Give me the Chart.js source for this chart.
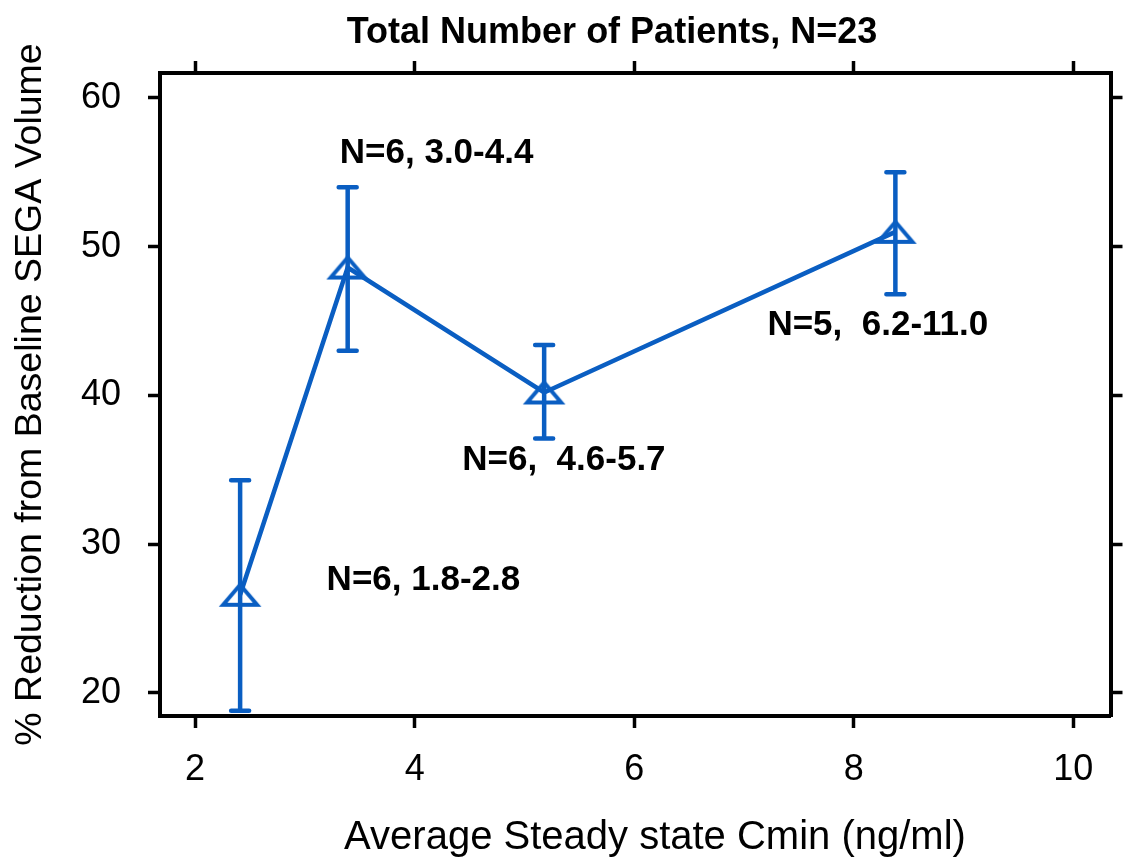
<!DOCTYPE html>
<html>
<head>
<meta charset="utf-8">
<title>SEGA volume reduction vs Cmin</title>
<script src="https://cdn.jsdelivr.net/npm/chart.js@4/dist/chart.umd.min.js"></script>
<style>
    body { margin: 0; background: #ffffff; }
    #wrap { width: 1127px; height: 859px; }
</style>
</head>
<body>
<div id="wrap"><canvas id="cminChart" width="1127" height="859"></canvas></div>
<script>
// Mean Cmin per exposure group and mean % reduction of SEGA volume
const cminMean = [2.41, 3.39, 5.18, 8.38];
const reduction = [26.6, 48.6, 40.2, 51.0];
const errUpper = [34.3, 54.0, 43.4, 55.0];
const errLower = [18.8, 43.0, 37.1, 46.8];
const groupLabels = ['N=6, 1.8-2.8', 'N=6, 3.0-4.4', 'N=6,  4.6-5.7', 'N=5,  6.2-11.0'];

const xTickValues = [2, 4, 6, 8, 10];
const yTickValues = [20, 30, 40, 50, 60];

const BLUE = '#0a5ec2';
const FONT = "'Liberation Sans', Arial, Helvetica, sans-serif";

// Where each group label sits (data units, text centre)
const labelAnchors = [
    { x: 4.08, y: 27.6 },
    { x: 4.20, y: 56.3 },
    { x: 5.36, y: 35.66 },
    { x: 8.22, y: 44.74 }
];

// Open triangle marker, a bit flatter than the built-in one
function makeTriangle() {
    const c = document.createElement('canvas');
    c.width = 44;
    c.height = 30;
    const g = c.getContext('2d');
    g.strokeStyle = BLUE;
    g.lineWidth = 4;
    g.lineJoin = 'miter';
    g.beginPath();
    g.moveTo(22, 5);
    g.lineTo(39, 25);
    g.lineTo(5, 25);
    g.closePath();
    g.stroke();
    return c;
}

const errorBars = {
    id: 'errorBars',
    afterDatasetsDraw(chart) {
        const ctx = chart.ctx;
        const xs = chart.scales.x;
        const ys = chart.scales.y;
        ctx.save();
        ctx.strokeStyle = BLUE;
        ctx.lineWidth = 4.5;
        ctx.lineCap = 'round';
        cminMean.forEach((v, i) => {
            const px = xs.getPixelForValue(v);
            const top = ys.getPixelForValue(errUpper[i]);
            const bot = ys.getPixelForValue(errLower[i]);
            ctx.beginPath();
            ctx.moveTo(px, top);
            ctx.lineTo(px, bot);
            ctx.moveTo(px - 9, top);
            ctx.lineTo(px + 9, top);
            ctx.moveTo(px - 9, bot);
            ctx.lineTo(px + 9, bot);
            ctx.stroke();
        });
        ctx.restore();
    }
};

// Heading, x-axis caption and the group labels
const chartText = {
    id: 'chartText',
    afterDraw(chart) {
        const ctx = chart.ctx;
        const xs = chart.scales.x;
        const ys = chart.scales.y;
        ctx.save();
        ctx.fillStyle = '#000000';
        ctx.textAlign = 'center';
        ctx.textBaseline = 'middle';

        ctx.font = 'bold 36px ' + FONT;
        ctx.fillText('Total Number of Patients, N=23', 612, 33);

        ctx.font = '40px ' + FONT;
        ctx.fillText('Average Steady state Cmin (ng/ml)', 655, 838);

        ctx.font = 'bold 35px ' + FONT;
        groupLabels.forEach((txt, i) => {
            const a = labelAnchors[i];
            ctx.fillText(txt, xs.getPixelForValue(a.x), ys.getPixelForValue(a.y));
        });
        ctx.restore();
    }
};

// Shared look for the four sides of the box
function sideGrid() {
    return {
        drawOnChartArea: false,
        drawTicks: true,
        tickLength: 12,
        tickWidth: 3.5,
        tickColor: '#000000',
        color: '#000000'
    };
}
const sideBorder = { display: true, width: 4, color: '#000000' };

const ctx = document.getElementById('cminChart').getContext('2d');
const chart = new Chart(ctx, {
    type: 'line',
    data: {
        datasets: [{
            label: '% Reduction',
            data: cminMean.map((v, i) => ({ x: v, y: reduction[i] })),
            borderColor: BLUE,
            borderWidth: 4.5,
            pointStyle: makeTriangle(),
            pointRadius: 12,
            tension: 0,
            fill: false
        }]
    },
    options: {
        responsive: false,
        animation: false,
        devicePixelRatio: 1,
        layout: { padding: { left: 0, right: 15, top: 73, bottom: 0 } },
        plugins: {
            legend: { display: false },
            tooltip: { enabled: false },
            title: { display: false }
        },
        scales: {
            x: {
                type: 'linear',
                position: 'bottom',
                min: 1.68,
                max: 10.34,
                afterBuildTicks: s => { s.ticks = xTickValues.map(v => ({ value: v })); },
                afterFit: s => { s.height = 143; },
                grid: sideGrid(),
                border: sideBorder,
                ticks: {
                    color: '#000000',
                    padding: 20,
                    maxRotation: 0,
                    font: { family: FONT, size: 36 }
                }
            },
            x2: {
                type: 'linear',
                position: 'top',
                min: 1.68,
                max: 10.34,
                afterBuildTicks: s => { s.ticks = xTickValues.map(v => ({ value: v })); },
                afterFit: s => { s.height = 0; },
                grid: sideGrid(),
                border: sideBorder,
                ticks: { display: false }
            },
            y: {
                type: 'linear',
                position: 'left',
                min: 18.45,
                max: 61.68,
                afterBuildTicks: s => { s.ticks = yTickValues.map(v => ({ value: v })); },
                afterFit: s => { s.width = 160; },
                grid: sideGrid(),
                border: sideBorder,
                ticks: {
                    color: '#000000',
                    padding: 27,
                    font: { family: FONT, size: 36 }
                },
                title: {
                    display: true,
                    text: '% Reduction from Baseline SEGA Volume',
                    color: '#000000',
                    font: { family: FONT, size: 37.5 },
                    padding: { top: 8, bottom: 0 }
                }
            },
            y2: {
                type: 'linear',
                position: 'right',
                min: 18.45,
                max: 61.68,
                afterBuildTicks: s => { s.ticks = yTickValues.map(v => ({ value: v })); },
                afterFit: s => { s.width = 0; },
                grid: sideGrid(),
                border: sideBorder,
                ticks: { display: false }
            }
        }
    },
    plugins: [errorBars, chartText]
});
</script>
</body>
</html>
